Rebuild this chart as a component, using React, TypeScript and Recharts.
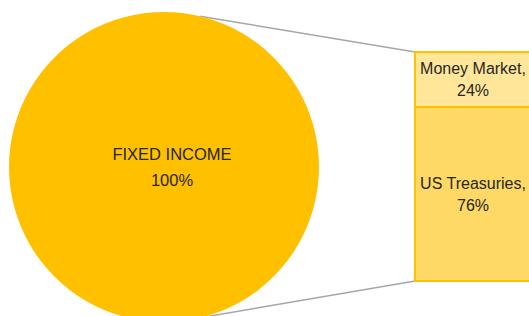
import { PieChart, Pie, Cell, BarChart, Bar, XAxis, YAxis } from 'recharts';

const pieSlices = ['FIXED INCOME'];
const pieValues = [100];
const barCategories = ['Fixed income'];
const moneyMarket = [24];
const usTreasuries = [76];

const pieData = pieSlices.map((name, i) => ({ name, value: pieValues[i] }));
const barData = barCategories.map((name, i) => ({
  name,
  moneyMarket: moneyMarket[i],
  usTreasuries: usTreasuries[i],
}));

const W = 529;
const H = 316;
const FONT = '"Liberation Sans", Arial, sans-serif';
const TEXT = '#262626';

// pie geometry
const CX = 164;
const CY = 167;
const R = 155;
// bar geometry
const BAR_LEFT = 415;
const BAR_TOP = 52;
const BAR_BOTTOM = 281;
const BAR_WIDTH = 116;

// connector start points on the circle
const connectorDx = 36;
const connectorDy = Math.sqrt(R * R - connectorDx * connectorDx);

function PieLabel(props: any) {
  const { cx, cy, name, value } = props;
  return (
    <text x={cx + 8} textAnchor="middle" fill={TEXT} fontFamily={FONT} fontSize={16.5}>
      <tspan x={cx + 8} y={cy - 7}>{name}</tspan>
      <tspan x={cx + 8} y={cy + 19}>{`${value}%`}</tspan>
    </text>
  );
}

// stacked bars report the stack top as value, so read the slice value itself
function makeBarLabel(title: string, values: number[]) {
  return (props: any) => {
    const { x, y, width, height, index } = props;
    const mx = Number(x) + Number(width) / 2;
    const my = Number(y) + Number(height) / 2;
    return (
      <text x={mx} textAnchor="middle" fill={TEXT} fontFamily={FONT} fontSize={16}>
        <tspan x={mx} y={my - 5}>{`${title},`}</tspan>
        <tspan x={mx} y={my + 17}>{`${values[index ?? 0]}%`}</tspan>
      </text>
    );
  };
}

export default function App() {
  return (
    <div style={{ position: 'fixed', left: 0, top: 0, width: W, height: H, overflow: 'hidden', background: '#fff' }}>
      <svg width={W} height={H} style={{ position: 'absolute', left: 0, top: 0 }}>
        <line x1={CX + connectorDx} y1={CY - connectorDy} x2={BAR_LEFT} y2={BAR_TOP} stroke="#a6a6a6" strokeWidth={1.5} />
        <line x1={CX + connectorDx} y1={CY + connectorDy} x2={BAR_LEFT} y2={BAR_BOTTOM} stroke="#a6a6a6" strokeWidth={1.5} />
      </svg>
      <div style={{ position: 'absolute', left: 0, top: 0 }}>
        <PieChart width={W} height={H} margin={{ top: 0, right: 0, bottom: 0, left: 0 }}>
          <Pie
            data={pieData}
            dataKey="value"
            nameKey="name"
            cx={CX}
            cy={CY}
            outerRadius={R}
            startAngle={90}
            endAngle={-270}
            stroke="none"
            labelLine={false}
            label={PieLabel}
            isAnimationActive={false}
          >
            {pieData.map((d) => (
              <Cell key={d.name} fill="#FFC000" />
            ))}
          </Pie>
        </PieChart>
      </div>
      <div style={{ position: 'absolute', left: 0, top: 0 }}>
        <BarChart
          width={BAR_LEFT + BAR_WIDTH + 20}
          height={H}
          data={barData}
          margin={{ top: BAR_TOP, bottom: H - BAR_BOTTOM, left: BAR_LEFT, right: 20 }}
          barCategoryGap={0}
        >
          <XAxis dataKey="name" hide />
          <YAxis domain={[0, 100]} hide />
          <Bar
            dataKey="usTreasuries"
            stackId="a"
            fill="#FFD966"
            stroke="#FFC000"
            strokeWidth={2}
            label={makeBarLabel('US Treasuries', usTreasuries)}
            isAnimationActive={false}
          />
          <Bar
            dataKey="moneyMarket"
            stackId="a"
            fill="#FFE699"
            stroke="#FFC000"
            strokeWidth={2}
            label={makeBarLabel('Money Market', moneyMarket)}
            isAnimationActive={false}
          />
        </BarChart>
      </div>
    </div>
  );
}
